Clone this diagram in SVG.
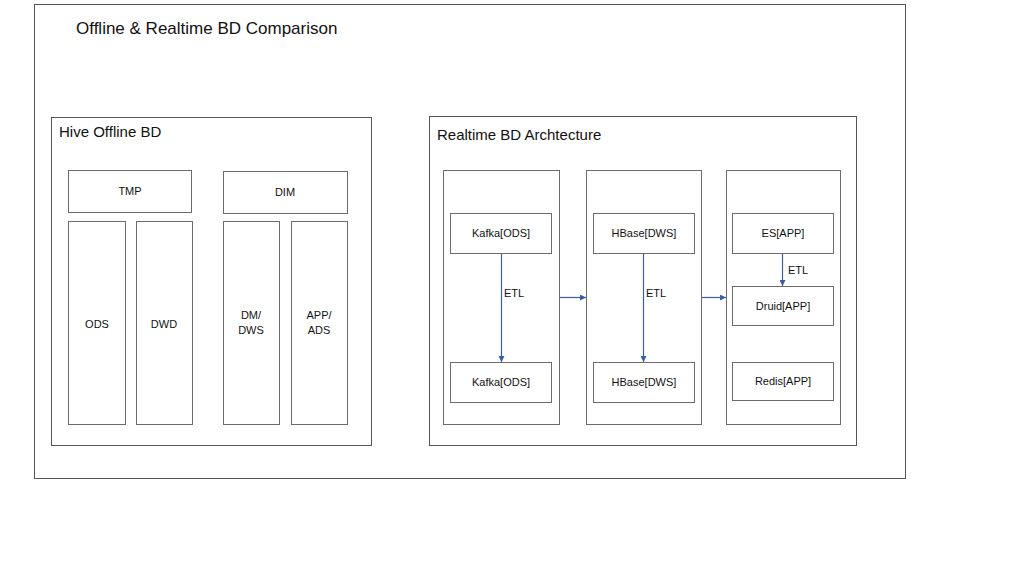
<svg xmlns="http://www.w3.org/2000/svg" width="1024" height="576" viewBox="0 0 1024 576">
<style>
.box{fill:#fff;stroke:#6b6b6b;stroke-width:1}
.frame{fill:#fff;stroke:#555;stroke-width:1}
.t{font-family:"Liberation Sans",Arial,sans-serif;font-size:11px;fill:#111;text-anchor:middle;dominant-baseline:central}
.h{font-family:"Liberation Sans",Arial,sans-serif;fill:#111}
.lbl{font-family:"Liberation Sans",Arial,sans-serif;font-size:11px;fill:#111;dominant-baseline:central}
.c{stroke:#3a5da6;stroke-width:1.2;fill:none;marker-end:url(#ah)}
</style>
<defs>
<marker id="ah" viewBox="0 0 10 10" refX="10" refY="5" markerWidth="6" markerHeight="6" orient="auto" markerUnits="userSpaceOnUse">
<path d="M0,0 L10,5 L0,10 z" fill="#3a5da6"/>
</marker>
</defs>
<rect width="1024" height="576" fill="#fff"/>
<g id="outer">
<rect class="frame" x="34.5" y="4.5" width="871" height="474"/>
<text class="h" x="76" y="34" font-size="17">Offline &amp; Realtime BD Comparison</text>
</g>
<g id="hive">
<rect class="frame" x="51.5" y="117.5" width="320" height="328"/>
<text class="h" x="59" y="137" font-size="15">Hive Offline BD</text>
</g>
<g id="tmp"><rect class="box" x="68.5" y="170.5" width="123" height="42"/><text class="t" x="130" y="191">TMP</text></g>
<g id="dim"><rect class="box" x="223.5" y="171.5" width="124" height="42"/><text class="t" x="285" y="192">DIM</text></g>
<g id="ods"><rect class="box" x="68.5" y="221.5" width="57" height="203"/><text class="t" x="97" y="324">ODS</text></g>
<g id="dwd"><rect class="box" x="136.5" y="221.5" width="56" height="203"/><text class="t" x="164" y="324">DWD</text></g>
<g id="dmdws"><rect class="box" x="223.5" y="221.5" width="56" height="203"/><text class="t" x="251" y="315">DM/</text><text class="t" x="251" y="330">DWS</text></g>
<g id="appads"><rect class="box" x="291.5" y="221.5" width="56" height="203"/><text class="t" x="319" y="315">APP/</text><text class="t" x="319" y="330">ADS</text></g>
<g id="realtime">
<rect class="frame" x="429.5" y="116.5" width="427" height="329"/>
<text class="h" x="437" y="140" font-size="15">Realtime BD Archtecture</text>
</g>
<g id="col1"><rect class="box" x="443.5" y="170.5" width="116" height="254"/></g>
<g id="col2"><rect class="box" x="586.5" y="170.5" width="115" height="254"/></g>
<g id="col3"><rect class="box" x="726.5" y="170.5" width="114" height="254"/></g>
<g id="kafka1"><rect class="box" x="450.5" y="213.5" width="101" height="40"/><text class="t" x="501" y="233">Kafka[ODS]</text></g>
<g id="kafka2"><rect class="box" x="450.5" y="362.5" width="101" height="40"/><text class="t" x="501" y="382">Kafka[ODS]</text></g>
<g id="hbase1"><rect class="box" x="593.5" y="213.5" width="101" height="40"/><text class="t" x="644" y="233">HBase[DWS]</text></g>
<g id="hbase2"><rect class="box" x="593.5" y="362.5" width="101" height="40"/><text class="t" x="644" y="382">HBase[DWS]</text></g>
<g id="es"><rect class="box" x="732.5" y="213.5" width="101" height="40"/><text class="t" x="783" y="233">ES[APP]</text></g>
<g id="druid"><rect class="box" x="732.5" y="286.5" width="101" height="39"/><text class="t" x="783" y="306">Druid[APP]</text></g>
<g id="redis"><rect class="box" x="732.5" y="362.5" width="101" height="38"/><text class="t" x="783" y="381">Redis[APP]</text></g>
<g id="connectors">
<line class="c" x1="501.5" y1="254" x2="501.5" y2="362"/>
<text class="lbl" x="504" y="293">ETL</text>
<line class="c" x1="643.5" y1="254" x2="643.5" y2="362"/>
<text class="lbl" x="646" y="293">ETL</text>
<line class="c" x1="782.5" y1="254" x2="782.5" y2="286"/>
<text class="lbl" x="788" y="270">ETL</text>
<line class="c" x1="560" y1="297.5" x2="586" y2="297.5"/>
<line class="c" x1="702" y1="297.5" x2="726" y2="297.5"/>
</g>
</svg>
